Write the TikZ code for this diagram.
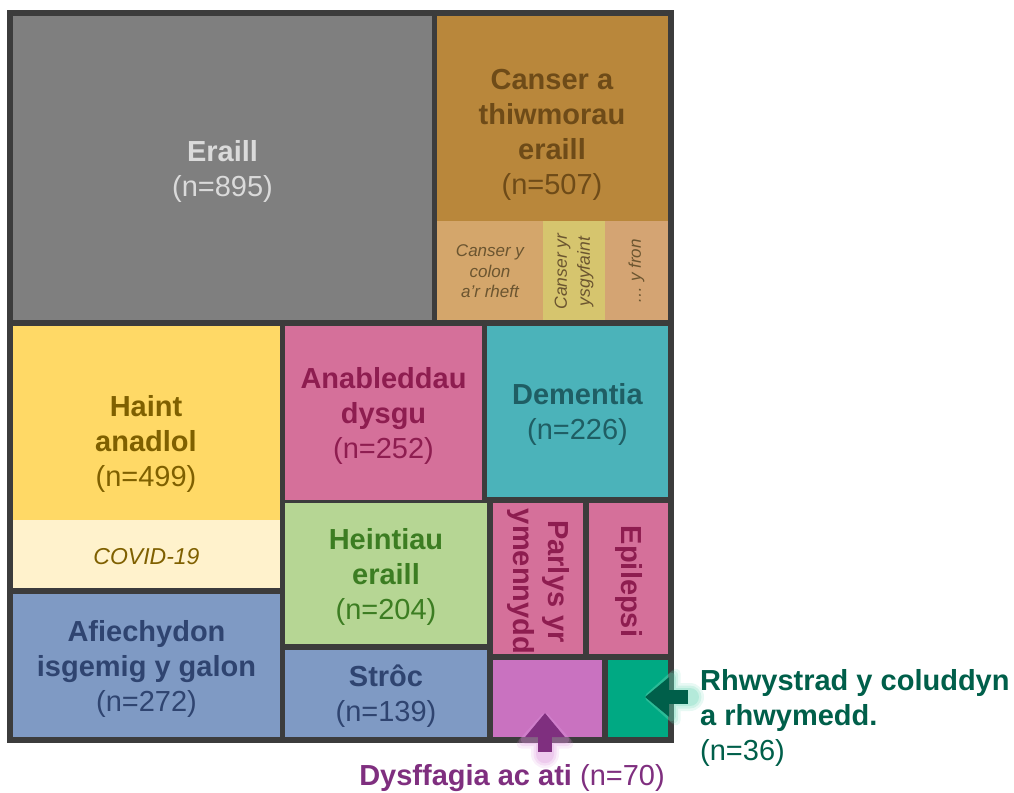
\documentclass[tikz,border=0pt]{standalone}
\usepackage{fontspec}
\setmainfont{Liberation Sans}
\usetikzlibrary{arrows.meta}

\definecolor{frameGray}{HTML}{3C3C3C}
\definecolor{cEraill}{HTML}{7F7F7F}
\definecolor{cCanser}{HTML}{B9873B}
\definecolor{cColon}{HTML}{D4A66B}
\definecolor{cYsgyf}{HTML}{D6C56E}
\definecolor{cFron}{HTML}{D4A473}
\definecolor{cHaint}{HTML}{FFD966}
\definecolor{cCovid}{HTML}{FFF2CC}
\definecolor{cBlue}{HTML}{7F9AC4}
\definecolor{cPink}{HTML}{D5709A}
\definecolor{cDement}{HTML}{4BB3BA}
\definecolor{cHeint}{HTML}{B6D694}
\definecolor{cDysff}{HTML}{C972C0}
\definecolor{cRhwys}{HTML}{00A983}
\definecolor{tEraill}{HTML}{DADADA}
\definecolor{tCanser}{HTML}{6E4B18}
\definecolor{tSmall}{HTML}{6B5530}
\definecolor{tHaint}{HTML}{7F6000}
\definecolor{tBlue}{HTML}{2F4470}
\definecolor{tPink}{HTML}{8E1D50}
\definecolor{tDement}{HTML}{1F5E64}
\definecolor{tHeint}{HTML}{3C7D22}
\definecolor{tPurple}{HTML}{7F2F7F}
\definecolor{tGreen}{HTML}{005F4A}
\definecolor{glowPurple}{HTML}{D98ED9}
\definecolor{glowGreen}{HTML}{5FD3B0}

\tikzset{
    cell/.style={anchor=north west, inner sep=0pt, outer sep=0pt},
    big/.style={font=\fontsize{29}{35}\selectfont, align=center, inner sep=0pt, yshift=-3pt},
    small/.style={font=\fontsize{17}{20.5}\selectfont\itshape, align=center,
        inner sep=0pt, text=tSmall, yshift=-1pt},
    pointer/.style={line width=14pt, shorten <=12pt,
        -{Triangle[width=38pt,length=24pt]}},
    glow/.style={line width=#1, shorten <=10pt, line cap=round, line join=round,
        -{Triangle[width=38pt+#1,length=24pt+.5*#1,round]}},
}

\begin{document}
\begin{tikzpicture}[x=1pt,y=-1pt]
    \useasboundingbox (0,0) rectangle (1014,792);

    % frame
    \node [cell, fill=frameGray, minimum width=667pt, minimum height=733pt] (frame) at (7,10) {};

    % top row
    \node [cell, fill=cEraill, minimum width=419pt, minimum height=304pt] (eraill) at (13,16) {};
    \node [cell, fill=cCanser, minimum width=231pt, minimum height=205pt] (canser) at (437,16) {};
    \node [cell, fill=cColon,  minimum width=106pt, minimum height=99pt] (colon) at (437,221) {};
    \node [cell, fill=cYsgyf,  minimum width=62pt,  minimum height=99pt] (ysgyf) at (543,221) {};
    \node [cell, fill=cFron,   minimum width=63pt,  minimum height=99pt] (fron) at (605,221) {};

    % left column
    \node [cell, fill=cHaint, minimum width=267pt, minimum height=194pt] (haint) at (13,326) {};
    \node [cell, fill=cCovid, minimum width=267pt, minimum height=68pt] (covid) at (13,520) {};
    \node [cell, fill=cBlue,  minimum width=267pt, minimum height=143pt] (afiech) at (13,594) {};

    % middle
    \node [cell, fill=cPink,   minimum width=197pt, minimum height=174pt] (anabl) at (285,326) {};
    \node [cell, fill=cDement, minimum width=181pt, minimum height=171pt] (dement) at (487,326) {};
    \node [cell, fill=cHeint,  minimum width=202pt, minimum height=141pt] (heint) at (285,503) {};
    \node [cell, fill=cBlue,   minimum width=202pt, minimum height=87pt] (stroc) at (285,650) {};

    % small ones
    \node [cell, fill=cPink,  minimum width=90pt,  minimum height=151pt] (parlys) at (493,503) {};
    \node [cell, fill=cPink,  minimum width=79pt,  minimum height=151pt] (epil) at (589,503) {};
    \node [cell, fill=cDysff, minimum width=109pt, minimum height=77pt] (dysff) at (493,660) {};
    \node [cell, fill=cRhwys, minimum width=60pt,  minimum height=77pt] (rhwys) at (608,660) {};

    % texts
    \node [big, text=tEraill] (eraillTxt) at (eraill.center) {\textbf{Eraill}\\(n=895)};
    \node [big, text=tCanser] (canserTxt) at (552,132) {\textbf{Canser a}\\\textbf{thiwmorau}\\\textbf{eraill}\\(n=507)};
    \node [small] (colonTxt) at (colon.center) {Canser y\\colon\\a'r rheft};
    \node [small, rotate=90, font=\fontsize{17.5}{23}\selectfont\itshape] (ysgyfTxt) at (ysgyf.center) {Canser yr\\ysgyfaint};
    \node [small, rotate=90] (fronTxt) at (fron.center) {\dots\ y fron};

    \node [big, text=tHaint] (haintTxt) at (146,441) {\textbf{Haint}\\\textbf{anadlol}\\(n=499)};
    \node [big, text=tHaint, font=\fontsize{23}{28}\selectfont\itshape] (covidTxt) at (covid.center) {COVID-19};
    \node [big, text=tBlue] (afiechTxt) at (afiech.center) {\textbf{Afiechydon}\\\textbf{isgemig y galon}\\(n=272)};

    \node [big, text=tPink] (anablTxt) at (anabl.center) {\textbf{Anableddau}\\\textbf{dysgu}\\(n=252)};
    \node [big, text=tDement] (dementTxt) at (dement.center) {\textbf{Dementia}\\(n=226)};
    \node [big, text=tHeint] (heintTxt) at (heint.center) {\textbf{Heintiau}\\\textbf{eraill}\\(n=204)};
    \node [big, text=tBlue] (strocTxt) at (stroc.center) {\textbf{Strôc}\\(n=139)};

    \node [big, text=tPink, rotate=-90] (parlysTxt) at (parlys.center) {\textbf{Parlys yr}\\\textbf{ymennydd}};
    \node [big, text=tPink, rotate=-90] (epilTxt) at (epil.center) {\textbf{Epilepsi}};

    % call-outs
    \node [big, text=tPurple] (dysffLbl) at (512,775) {\textbf{Dysffagia ac ati} (n=70)};
    \node [big, text=tGreen, align=left, anchor=west] (rhwysLbl) at (700,715)
        {\textbf{Rhwystrad y coluddyn}\\\textbf{a rhwymedd.}\\(n=36)};

    \coordinate (dysffTip) at (545,713);
    \coordinate (rhwysTip) at (645,697);

    % soft glow behind the pointers
    \foreach \w/\o in {28pt/.14, 23pt/.18, 18pt/.24} {
        \begin{scope}[transparency group, opacity=\o]
            \draw [glow=\w, glowPurple] (dysffLbl.north -| dysffTip) -- (dysffTip);
            \draw [glow=\w, glowGreen] (rhwysTip -| rhwysLbl.west) -- (rhwysTip);
        \end{scope}
    }
    \draw [pointer, tPurple] (dysffLbl.north -| dysffTip) -- (dysffTip);
    \draw [pointer, tGreen] (rhwysTip -| rhwysLbl.west) -- (rhwysTip);
\end{tikzpicture}
\end{document}
